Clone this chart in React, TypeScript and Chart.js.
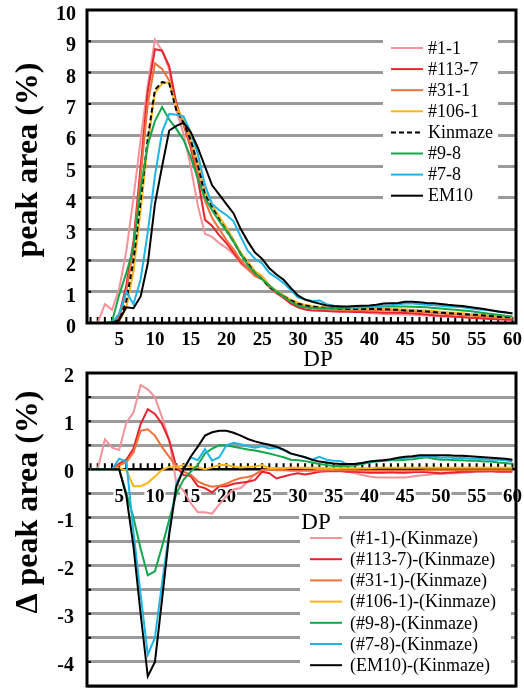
import React, { useEffect, useRef } from 'react';
import { Chart, registerables } from 'chart.js';
Chart.register(...registerables);

const DP = ['1','2','3','4','5','6','7','8','9','10','11','12','13','14','15','16','17','18','19','20','21','22','23','24','25','26','27','28','29','30','31','32','33','34','35','36','37','38','39','40','41','42','43','44','45','46','47','48','49','50','51','52','53','54','55','56','57','58','59','60'];

// Top chart: peak area (%)
const S_1_1 = [0,0,0.6,0.42,1.1,2.3,4.0,5.85,7.6,9.05,8.7,8.1,6.8,6.05,5.0,3.75,2.85,2.75,2.55,2.4,2.2,1.9,1.7,1.5,1.42,1.2,1.0,0.85,0.68,0.55,0.5,0.46,0.44,0.43,0.42,0.4,0.38,0.36,0.34,0.32,0.3,0.29,0.28,0.28,0.27,0.26,0.25,0.24,0.22,0.21,0.2,0.19,0.18,0.17,0.16,0.14,0.13,0.12,0.11,0.1];
const S_113_7 = [0,0,0,0,0.25,1.2,2.6,5.0,7.4,8.75,8.7,8.2,7.0,6.35,5.6,4.6,3.3,3.1,2.8,2.55,2.25,1.95,1.75,1.55,1.4,1.15,0.95,0.8,0.62,0.5,0.43,0.4,0.39,0.38,0.37,0.36,0.36,0.35,0.35,0.34,0.34,0.33,0.33,0.33,0.32,0.31,0.29,0.27,0.25,0.23,0.22,0.2,0.19,0.17,0.16,0.14,0.13,0.12,0.11,0.1];
const S_31_1 = [0,0,0,0,0.15,1.0,2.4,4.7,7.0,8.3,8.12,7.75,6.9,6.35,5.7,4.8,3.9,3.35,3.0,2.65,2.35,2.0,1.75,1.5,1.4,1.15,0.98,0.83,0.7,0.6,0.53,0.49,0.46,0.44,0.43,0.42,0.41,0.41,0.41,0.41,0.41,0.4,0.4,0.39,0.38,0.36,0.35,0.34,0.32,0.3,0.28,0.27,0.25,0.24,0.22,0.2,0.19,0.17,0.16,0.15];
const S_106_1 = [0,0,0,0,0.05,0.5,1.65,3.6,5.7,7.35,7.65,7.7,6.9,6.5,5.9,5.1,4.2,3.75,3.4,3.05,2.65,2.25,1.95,1.65,1.5,1.2,1.03,0.88,0.75,0.65,0.58,0.54,0.51,0.49,0.48,0.47,0.47,0.47,0.47,0.47,0.47,0.46,0.45,0.44,0.43,0.42,0.41,0.4,0.38,0.36,0.34,0.33,0.31,0.29,0.28,0.26,0.24,0.22,0.21,0.2];
const S_KINMAZE = [0,0,0,0,0.08,0.7,2.0,3.9,5.9,7.45,7.7,7.65,6.8,6.4,5.85,5.05,4.1,3.7,3.3,2.95,2.6,2.2,1.9,1.6,1.4,1.15,1.0,0.85,0.72,0.62,0.56,0.52,0.5,0.48,0.47,0.46,0.45,0.45,0.45,0.45,0.45,0.44,0.43,0.42,0.4,0.39,0.38,0.37,0.35,0.33,0.31,0.3,0.29,0.27,0.26,0.24,0.22,0.2,0.19,0.18];
const S_9_8 = [0,0,0,0.05,0.9,1.6,2.4,4.3,5.7,6.45,6.9,6.5,6.2,5.85,5.3,4.6,4.0,3.6,3.25,2.95,2.6,2.2,1.85,1.6,1.4,1.2,1.0,0.85,0.68,0.55,0.5,0.48,0.47,0.47,0.47,0.48,0.49,0.5,0.5,0.51,0.52,0.53,0.53,0.53,0.53,0.52,0.51,0.5,0.48,0.46,0.44,0.42,0.4,0.38,0.35,0.32,0.29,0.26,0.23,0.21];
const S_7_8 = [0,0,0,0,0.3,1.0,0.6,1.4,2.9,4.7,6.1,6.68,6.65,6.6,6.1,5.4,4.4,3.8,3.6,3.45,3.25,2.75,2.3,2.05,1.9,1.6,1.45,1.28,1.05,0.82,0.75,0.7,0.72,0.6,0.55,0.53,0.5,0.49,0.5,0.51,0.53,0.55,0.57,0.6,0.62,0.62,0.6,0.58,0.57,0.55,0.53,0.52,0.5,0.47,0.44,0.42,0.4,0.37,0.33,0.32];
const S_EM10 = [0,0,0,0,0.1,0.5,0.47,0.85,1.9,3.8,5.0,6.15,6.3,6.4,6.1,5.6,5.0,4.4,4.1,3.8,3.5,3.0,2.6,2.25,2.05,1.75,1.55,1.38,1.12,0.88,0.75,0.68,0.62,0.56,0.54,0.53,0.53,0.54,0.55,0.56,0.58,0.62,0.63,0.64,0.68,0.68,0.66,0.64,0.63,0.61,0.58,0.56,0.54,0.51,0.48,0.45,0.41,0.37,0.34,0.3];

// Bottom chart: delta peak area (%)
const D_1_1 = [0,0,0.62,0.45,0.4,0.97,1.18,1.75,1.66,1.5,1.08,0.6,-0.29,-0.44,-0.7,-0.89,-0.89,-0.92,-0.73,-0.56,-0.42,-0.39,-0.25,-0.1,-0.03,0,0.02,0.02,0.03,0.03,0.02,0.02,0,0,-0.02,-0.03,-0.05,-0.08,-0.12,-0.15,-0.17,-0.17,-0.17,-0.17,-0.17,-0.15,-0.13,-0.12,-0.1,-0.1,-0.08,-0.08,-0.07,-0.06,-0.05,-0.05,-0.04,-0.04,-0.04,-0.04];
const D_113_7 = [0,0,0,0,0.12,0.2,0.43,0.94,1.25,1.15,0.94,0.6,0.05,-0.12,-0.14,-0.35,-0.39,-0.48,-0.35,-0.35,-0.3,-0.28,-0.26,-0.22,-0.05,-0.08,-0.19,-0.15,-0.11,-0.08,-0.11,-0.08,-0.05,-0.04,-0.04,-0.04,-0.05,-0.05,-0.06,-0.07,-0.07,-0.07,-0.06,-0.07,-0.07,-0.06,-0.05,-0.06,-0.07,-0.08,-0.07,-0.06,-0.05,-0.05,-0.04,-0.04,-0.04,-0.05,-0.05,-0.05];
const D_31_1 = [0,0,0,0,0.08,0.15,0.35,0.8,0.83,0.7,0.46,0.26,0.07,-0.05,-0.11,-0.25,-0.32,-0.36,-0.34,-0.3,-0.23,-0.18,-0.16,-0.11,-0.01,0,-0.02,-0.02,-0.03,-0.03,-0.03,-0.03,-0.03,-0.02,-0.02,-0.02,-0.02,-0.02,-0.03,-0.03,-0.03,-0.03,-0.03,-0.03,-0.03,-0.03,-0.03,-0.02,-0.02,-0.02,-0.02,-0.02,-0.02,-0.02,-0.02,-0.02,-0.02,-0.02,-0.02,-0.02];
const D_106_1 = [0,0,0,0,0.02,-0.02,-0.35,-0.35,-0.28,-0.15,-0.01,0.05,0.04,0.09,0.05,0.04,0,0.04,0.09,0.09,0.06,0.04,0.05,0.06,0.09,0.02,0.02,0.02,0.03,0.03,0.03,0.03,0.03,0.02,0.02,0.02,0.02,0.02,0.02,0.02,0.03,0.03,0.03,0.03,0.03,0.03,0.03,0.03,0.03,0.03,0.03,0.03,0.03,0.03,0.03,0.03,0.03,0.03,0.03,0.03];
const D_9_8 = [0,0,0,0,0,-0.5,-1.0,-1.65,-2.2,-2.12,-1.6,-1.05,-0.5,-0.22,-0.05,0.09,0.33,0.43,0.5,0.5,0.47,0.44,0.41,0.39,0.36,0.33,0.29,0.25,0.2,0.19,0.17,0.14,0.11,0.09,0.07,0.07,0.07,0.08,0.11,0.14,0.16,0.18,0.19,0.19,0.2,0.21,0.23,0.25,0.22,0.2,0.2,0.19,0.19,0.18,0.18,0.16,0.16,0.14,0.13,0.11];
const D_7_8 = [0,0,0,0,0.22,0.16,-1.3,-2.6,-3.85,-3.5,-2.36,-1.29,-0.29,-0.01,0.25,0.19,0.42,0.18,0.25,0.5,0.55,0.52,0.48,0.45,0.48,0.43,0.45,0.4,0.32,0.29,0.25,0.2,0.26,0.2,0.18,0.17,0.09,0.11,0.13,0.15,0.17,0.19,0.2,0.22,0.24,0.25,0.26,0.27,0.26,0.24,0.25,0.23,0.24,0.22,0.22,0.21,0.2,0.2,0.19,0.16];
const D_EM10 = [0,0,0,0,0,-0.55,-1.6,-3.0,-4.3,-4.0,-2.7,-1.35,-0.36,0,0.26,0.47,0.7,0.77,0.8,0.8,0.76,0.7,0.63,0.58,0.54,0.51,0.47,0.41,0.33,0.29,0.25,0.2,0.16,0.14,0.12,0.11,0.11,0.11,0.13,0.16,0.18,0.19,0.21,0.24,0.26,0.27,0.29,0.29,0.29,0.29,0.29,0.28,0.28,0.27,0.26,0.25,0.24,0.23,0.22,0.2];

const TOP_LABELS = ['#1-1', '#113-7', '#31-1', '#106-1', 'Kinmaze', '#9-8', '#7-8', 'EM10'];
const TOP_SERIES = [S_1_1, S_113_7, S_31_1, S_106_1, S_KINMAZE, S_9_8, S_7_8, S_EM10];
const TOP_COLORS = ['#F4929A', '#E8232E', '#F0703A', '#FDB515', '#000000', '#12A84B', '#1DB4E6', '#000000'];
const TOP_DASH = [[], [], [], [], [5, 3], [], [], []];

const DIFF_LABELS = ['(#1-1)-(Kinmaze)', '(#113-7)-(Kinmaze)', '(#31-1)-(Kinmaze)', '(#106-1)-(Kinmaze)', '(#9-8)-(Kinmaze)', '(#7-8)-(Kinmaze)', '(EM10)-(Kinmaze)'];
const DIFF_SERIES = [D_1_1, D_113_7, D_31_1, D_106_1, D_9_8, D_7_8, D_EM10];
const DIFF_COLORS = ['#F4929A', '#E8232E', '#F0703A', '#FDB515', '#12A84B', '#1DB4E6', '#000000'];

const TOP_Y_TITLE = 'peak area (%)';
const BOTTOM_Y_TITLE = 'Δ peak area (%)';
const X_TITLE = 'DP';

const SERIF = '"Liberation Serif", "Times New Roman", Times, serif';
const GRID = '#9a9a9a';

const noPadY = (w: number) => (s: any) => { s.width = w; s.paddingTop = 0; s.paddingBottom = 0; };
const noPadX = (h: number | null) => (s: any) => { if (h !== null) s.height = h; s.paddingLeft = 0; s.paddingRight = 0; };

function makeDeco(opts: any) {
  return {
    id: 'deco',
    beforeDatasetsDraw(chart: any) {
      const { ctx, chartArea } = chart;
      const xs = chart.scales.x;
      const ys = chart.scales.y;
      ctx.save();
      ctx.fillStyle = '#ffffff';
      for (const r of opts.whiteRects) ctx.fillRect(r[0], r[1], r[2], r[3]);
      const y0 = ys.getPixelForValue(0);
      ctx.strokeStyle = '#000';
      ctx.lineWidth = 2;
      ctx.beginPath();
      for (let i = 0; i < DP.length; i++) {
        const x = xs.getPixelForValue(i);
        ctx.moveTo(x, y0);
        ctx.lineTo(x, y0 - 6);
      }
      for (const t of ys.ticks) {
        const y = ys.getPixelForValue(t.value);
        ctx.moveTo(chartArea.left, y);
        ctx.lineTo(chartArea.left + 4, y);
      }
      ctx.stroke();
      ctx.restore();
    },
    afterDraw(chart: any) {
      const { ctx, chartArea } = chart;
      ctx.save();
      ctx.strokeStyle = '#000';
      ctx.lineWidth = 3;
      ctx.strokeRect(chartArea.left, chartArea.top, chartArea.right - chartArea.left, chartArea.bottom - chartArea.top);
      ctx.font = `18px ${SERIF}`;
      ctx.textBaseline = 'middle';
      ctx.textAlign = 'left';
      chart.data.datasets.forEach((ds: any, i: number) => {
        const y = opts.legend.y0 + i * opts.legend.dy;
        ctx.strokeStyle = ds.borderColor;
        ctx.lineWidth = 2;
        ctx.setLineDash(ds.borderDash || []);
        ctx.beginPath();
        ctx.moveTo(opts.legend.x1, y);
        ctx.lineTo(opts.legend.x2, y);
        ctx.stroke();
        ctx.setLineDash([]);
        ctx.fillStyle = '#000';
        ctx.fillText(ds.label, opts.legend.tx, y + 1);
      });
      ctx.font = `23px ${SERIF}`;
      ctx.textAlign = 'center';
      ctx.fillStyle = '#000';
      ctx.fillText(X_TITLE, opts.xTitle[0], opts.xTitle[1]);
      ctx.translate(opts.yTitle[0], opts.yTitle[1]);
      ctx.rotate(-Math.PI / 2);
      ctx.font = `bold 32px ${SERIF}`;
      ctx.fillText(opts.yTitleText, 0, 0);
      ctx.restore();
    },
  };
}

const labelCb = (v: any, i: number) => (Number(DP[i]) % 5 === 0 ? DP[i] : '');

function TopChart() {
  const ref = useRef<HTMLCanvasElement>(null);
  useEffect(() => {
    const chart = new Chart(ref.current!, {
      type: 'line',
      data: {
        labels: DP,
        datasets: TOP_SERIES.map((s, i) => ({
          label: TOP_LABELS[i],
          data: s,
          borderColor: TOP_COLORS[i],
          borderWidth: 2,
          borderDash: TOP_DASH[i],
          pointRadius: 0,
          tension: 0,
          fill: false,
          order: TOP_SERIES.length - i,
        })),
      },
      options: {
        animation: false,
        responsive: false,
        devicePixelRatio: 1,
        layout: { padding: { top: 10, right: 8, left: 0, bottom: 0 } },
        plugins: { legend: { display: false }, tooltip: { enabled: false } },
        scales: {
          x: {
            type: 'category',
            offset: true,
            grid: { display: false, drawTicks: false },
            border: { display: false },
            afterFit: noPadX(57),
            ticks: {
              autoSkip: false,
              maxRotation: 0,
              padding: 8,
              color: '#000',
              font: { family: SERIF, size: 19, weight: 'bold', lineHeight: 1 },
              callback: labelCb,
            },
          },
          y: {
            min: 0,
            max: 10,
            afterFit: noPadY(87),
            grid: {
              drawTicks: false,
              lineWidth: 3,
              color: (c: any) => (c.tick && (c.tick.value === 0 || c.tick.value === 10) ? 'rgba(0,0,0,0)' : GRID),
            },
            border: { display: false },
            ticks: {
              stepSize: 1,
              padding: 11,
              labelOffset: 5,
              color: '#000',
              font: { family: SERIF, size: 20, weight: 'bold', lineHeight: 1 },
            },
          },
        },
      },
      plugins: [makeDeco({
        whiteRects: [[383, 34, 115, 171]],
        legend: { y0: 48, dy: 21.1, x1: 391, x2: 423, tx: 428 },
        xTitle: [318, 360],
        yTitle: [29, 160],
        yTitleText: TOP_Y_TITLE,
      })],
    } as any);
    return () => chart.destroy();
  }, []);
  return <canvas ref={ref} width={524} height={380} style={{ position: 'absolute', left: 0, top: 0, width: 524, height: 380 }} />;
}

const BTOP = 360;

function BottomChart() {
  const ref = useRef<HTMLCanvasElement>(null);
  useEffect(() => {
    const chart = new Chart(ref.current!, {
      type: 'line',
      data: {
        labels: DP,
        datasets: DIFF_SERIES.map((s, i) => ({
          label: DIFF_LABELS[i],
          data: s,
          borderColor: DIFF_COLORS[i],
          borderWidth: 2,
          pointRadius: 0,
          tension: 0,
          fill: false,
          order: DIFF_SERIES.length - i,
        })),
      },
      options: {
        animation: false,
        responsive: false,
        devicePixelRatio: 1,
        layout: { padding: { top: 13, right: 8, left: 0, bottom: 2 } },
        plugins: { legend: { display: false }, tooltip: { enabled: false } },
        scales: {
          x: {
            type: 'category',
            offset: true,
            position: { y: 0 },
            grid: { display: false, drawTicks: false },
            border: { display: true, color: '#000', width: 2.5 },
            afterFit: noPadX(null),
            ticks: {
              autoSkip: false,
              maxRotation: 0,
              padding: 18,
              color: '#000',
              font: { family: SERIF, size: 19, weight: 'bold', lineHeight: 1 },
              showLabelBackdrop: true,
              backdropColor: (c: any) => (Number(DP[c.index]) % 5 === 0 ? '#ffffff' : 'rgba(0,0,0,0)'),
              backdropPadding: { top: 0, bottom: 0, left: 1, right: 1 },
              callback: labelCb,
            },
          },
          y: {
            min: -4.5,
            max: 2,
            afterFit: noPadY(87),
            grid: {
              drawTicks: false,
              lineWidth: 3,
              color: (c: any) => (c.tick && (c.tick.value === 0 || c.tick.value === 2) ? 'rgba(0,0,0,0)' : GRID),
            },
            border: { display: false },
            ticks: {
              stepSize: 0.5,
              padding: 13,
              labelOffset: 4,
              color: '#000',
              font: { family: SERIF, size: 20, weight: 'bold', lineHeight: 1 },
              callback: (v: any) => (Number.isInteger(v) ? String(v) : ''),
            },
          },
        },
      },
      plugins: [makeDeco({
        whiteRects: [[299, 508 - BTOP, 40, 19], [300, 527 - BTOP, 211, 152]],
        legend: { y0: 538 - BTOP, dy: 21.2, x1: 310, x2: 342, tx: 350 },
        xTitle: [316, 523 - BTOP],
        yTitle: [29, 502 - BTOP],
        yTitleText: BOTTOM_Y_TITLE,
      })],
    } as any);
    return () => chart.destroy();
  }, []);
  return <canvas ref={ref} width={524} height={328} style={{ position: 'absolute', left: 0, top: BTOP, width: 524, height: 328 }} />;
}

export default function App() {
  return (
    <div style={{ position: 'absolute', left: 0, top: 0, width: 524, height: 688, background: '#fff', overflow: 'hidden' }}>
      <TopChart />
      <BottomChart />
    </div>
  );
}
